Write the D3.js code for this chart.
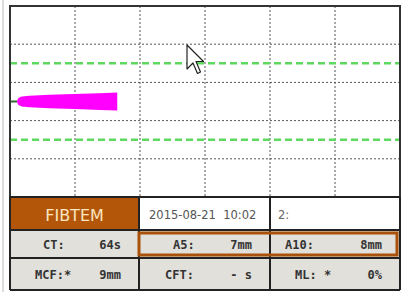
<!DOCTYPE html>
<html>
<head>
<meta charset="utf-8">
<script src="https://cdn.jsdelivr.net/npm/d3@7"></script>
<style>
  body { margin: 0; background: #fff; }
  svg { display: block; }
</style>
</head>
<body>
<div id="main"></div>
<script>
// trace data (minutes, amplitude in mm)
var traceTime = [1.07, 1.2, 1.4, 1.7, 2.2, 3, 4.5, 6.07, 11.07, 16.5];
var traceAmp = [0, 2.5, 4, 5, 5.6, 6, 6.5, 7, 8, 9.5];
var baseTime = [0, 1.07];

var gridTimes = [10, 20, 30, 40, 50];
var gridAmps = [-60, -20, 20, 60];
var limitAmps = [-40, 40];

var testName = 'FIBTEM';
var testDate = '2015-08-21  10:02';
var channel = '2:';
var paramLabels = [['CT:', 'A5:', 'A10:'], ['MCF:*', 'CFT:', 'ML: *']];
var paramValues = [['64s', '7mm', '8mm'], ['9mm', '- s', '0%']];

var width = 405;
var height = 295;

var svg = d3.select('#main')
  .append('svg')
  .attr('width', width)
  .attr('height', height);

var plot = { left: 10, right: 400, top: 6, bottom: 197 };

var x = d3.scaleLinear()
  .domain([0, 60])
  .range([plot.left, plot.right]);

var y = d3.scaleLinear()
  .domain([-100, 100])
  .range([plot.bottom, plot.top]);

// faint outer line on the left
svg.append('line')
  .attr('x1', 3).attr('x2', 3)
  .attr('y1', 0).attr('y2', 292)
  .attr('stroke', '#bbb')
  .attr('stroke-width', 1);

// grid
svg.append('g')
  .selectAll('line')
  .data(gridTimes)
  .enter().append('line')
  .attr('x1', function(d) { return x(d); })
  .attr('x2', function(d) { return x(d); })
  .attr('y1', plot.top)
  .attr('y2', plot.bottom)
  .attr('stroke', '#555')
  .attr('stroke-width', 1)
  .attr('stroke-dasharray', '2,2');

svg.append('g')
  .selectAll('line')
  .data(gridAmps)
  .enter().append('line')
  .attr('x1', plot.left)
  .attr('x2', plot.right)
  .attr('y1', function(d) { return y(d); })
  .attr('y2', function(d) { return y(d); })
  .attr('stroke', '#555')
  .attr('stroke-width', 1)
  .attr('stroke-dasharray', '2,2');

svg.append('g')
  .selectAll('line')
  .data(limitAmps)
  .enter().append('line')
  .attr('x1', plot.left)
  .attr('x2', plot.right)
  .attr('y1', function(d) { return y(d); })
  .attr('y2', function(d) { return y(d); })
  .attr('stroke', '#5fd85f')
  .attr('stroke-width', 2.5)
  .attr('stroke-dasharray', '7,4');

// baseline before clotting
svg.append('line')
  .attr('x1', x(baseTime[0]))
  .attr('x2', x(baseTime[1]))
  .attr('y1', y(0))
  .attr('y2', y(0))
  .attr('stroke', '#2e6b2e')
  .attr('stroke-width', 2);

var trace = traceTime.map(function(t, i) { return { t: t, a: traceAmp[i] }; });

var area = d3.area()
  .curve(d3.curveMonotoneX)
  .x(function(d) { return x(d.t); })
  .y0(function(d) { return y(-d.a); })
  .y1(function(d) { return y(d.a); });

svg.append('path')
  .datum(trace)
  .attr('d', area)
  .attr('fill', '#ff00ff');

// plot frame
svg.append('rect')
  .attr('x', plot.left)
  .attr('y', plot.top)
  .attr('width', plot.right - plot.left)
  .attr('height', plot.bottom - plot.top)
  .attr('fill', 'none')
  .attr('stroke', '#333')
  .attr('stroke-width', 2);

// mouse cursor
var cursor = [[0,0],[0,16],[4,12],[7,19],[9,18],[6,11],[11,11]];
svg.append('path')
  .attr('d', 'M' + cursor.map(function(p) { return [187 + p[0] * 1.5, 45 + p[1] * 1.5]; }).join('L') + 'Z')
  .attr('fill', '#fff')
  .attr('stroke', '#222')
  .attr('stroke-width', 1.2)
  .attr('stroke-linejoin', 'round');

// result table
var colX = [10, 139, 270, 400];
var rowY = [197, 230, 258, 290];

var table = svg.append('g');

table.append('rect')
  .attr('x', colX[0]).attr('y', rowY[0])
  .attr('width', colX[1] - colX[0]).attr('height', rowY[1] - rowY[0])
  .attr('fill', '#b3560a');

table.append('rect')
  .attr('x', colX[0]).attr('y', rowY[1])
  .attr('width', colX[3] - colX[0]).attr('height', rowY[3] - rowY[1])
  .attr('fill', '#e1e0da');

table.append('text')
  .attr('x', (colX[0] + colX[1]) / 2)
  .attr('y', 221)
  .attr('text-anchor', 'middle')
  .attr('font-family', 'DejaVu Sans')
  .attr('font-size', 16)
  .attr('fill', '#fbe6bf')
  .text(testName);

table.append('text')
  .attr('x', 149)
  .attr('y', 219)
  .attr('font-family', 'DejaVu Sans')
  .attr('font-size', 11.5)
  .attr('fill', '#555')
  .style('white-space', 'pre')
  .text(testDate);

table.append('text')
  .attr('x', 278)
  .attr('y', 219)
  .attr('font-family', 'DejaVu Sans')
  .attr('font-size', 11.5)
  .attr('fill', '#666')
  .text(channel);

var labelStart = [[43, 173, 285], [35, 165, 295]];

paramLabels.forEach(function(row, r) {
  row.forEach(function(label, c) {
    var base = (rowY[r + 1] + rowY[r + 2]) / 2 + 4.5;
    table.append('text')
      .attr('x', labelStart[r][c])
      .attr('y', base)
      .attr('font-family', 'DejaVu Sans Mono')
      .attr('font-weight', 'bold')
      .attr('font-size', 12)
      .attr('fill', '#333')
      .text(label);
    table.append('text')
      .attr('x', colX[c + 1] - 18)
      .attr('y', base)
      .attr('text-anchor', 'end')
      .attr('font-family', 'DejaVu Sans Mono')
      .attr('font-weight', 'bold')
      .attr('font-size', 12)
      .attr('fill', '#333')
      .style('white-space', 'pre')
      .text(paramValues[r][c]);
  });
});

// table lines
rowY.forEach(function(v) {
  table.append('line')
    .attr('x1', colX[0]).attr('x2', colX[3])
    .attr('y1', v).attr('y2', v)
    .attr('stroke', '#222').attr('stroke-width', 2);
});
colX.forEach(function(v) {
  table.append('line')
    .attr('x1', v).attr('x2', v)
    .attr('y1', rowY[0]).attr('y2', rowY[3])
    .attr('stroke', '#222').attr('stroke-width', 2);
});

// highlighted amplitude values
table.append('rect')
  .attr('x', 139)
  .attr('y', 233)
  .attr('width', 258)
  .attr('height', 22)
  .attr('fill', 'none')
  .attr('stroke', '#a9510a')
  .attr('stroke-width', 3);
</script>
</body>
</html>
